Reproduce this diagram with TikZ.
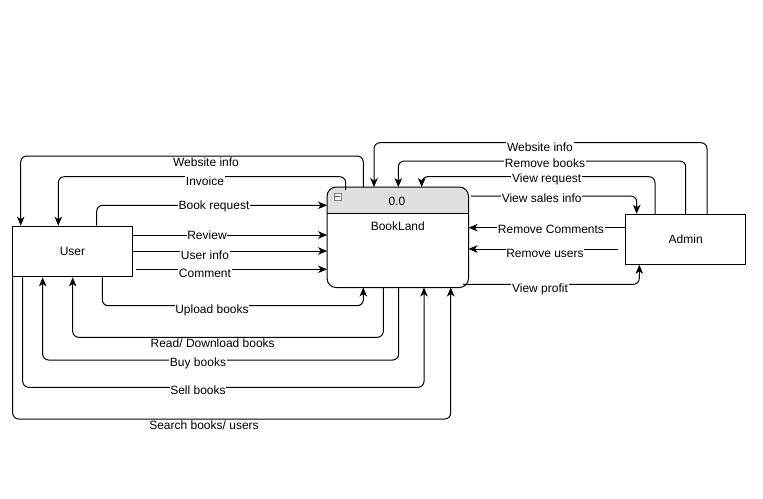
\documentclass[tikz,border=0pt]{standalone}
\usepackage{fontspec}
\setmainfont{Liberation Sans}
\usetikzlibrary{arrows.meta}
\definecolor{hdrgray}{HTML}{E0E0E0}
\tikzset{
  box/.style={draw, line width=1pt, minimum width=#1, inner sep=0pt, font=\fontsize{12}{14}\selectfont},
  lbl/.style={fill=white, inner sep=0.8pt, yshift=-1.2pt, font=\fontsize{12}{14}\selectfont},
  flow/.style={draw, line width=1pt, rounded corners=6pt, -{Stealth[length=9pt,width=7.5pt,inset=2.5pt]}},
}
\begin{document}
\begin{tikzpicture}[x=1pt,y=-1pt]
\useasboundingbox (0,0) rectangle (763,498);
% entities
\node[box=120.4pt, minimum height=50.7pt] (User) at (72.5,251.5) {User};
\node[box=120pt, minimum height=50pt] (Admin) at (685.7,239.3) {Admin};
% process
\node[draw=none, minimum width=141pt, minimum height=100pt, inner sep=0pt] (BL) at (397.8,237.3) {};
\fill[hdrgray] (BL.west |- 0,213.3) [rounded corners=9pt] -- (BL.north west) -- (BL.north east) [sharp corners] -- (BL.east |- 0,213.3) -- cycle;
\draw[line width=1pt, rounded corners=9pt] (BL.south west) rectangle (BL.north east);
\draw[line width=1pt] (BL.west |- 0,213.3) -- (BL.east |- 0,213.3);
\node[font=\fontsize{12}{14}\selectfont] (BLid) at (397,201.5) {0.0};
\node[font=\fontsize{12}{14}\selectfont] (BLname) at (397.8,226.5) {BookLand};
\node[draw=gray, fill=white, line width=0.8pt, minimum size=7pt, inner sep=0pt] (BLmin) at (337.5,196.5) {};
\draw[line width=0.8pt, gray!70!black] ([xshift=1.8pt]BLmin.west) -- ([xshift=-1.8pt]BLmin.east);
% left flows
\draw[flow] (363.3,0 |- BL.north) -- (363.3,156) -- (20.7,156) -- (20.7,0 |- User.north);
\draw[flow] (345.7,190) -- (345.7,176.7) -- (58.3,176.7) -- (58.3,0 |- User.north);
\draw[flow] (96.7,0 |- User.north) -- (96.7,205.3) -- (BL.west |- 0,205.3);
\draw[flow] (User.east |- 0,235) -- (BL.west |- 0,235);
\draw[flow] (User.east |- 0,251) -- (BL.west |- 0,251);
\draw[flow] (136,269.3) -- (BL.west |- 0,269.3);
\draw[flow] (102.3,0 |- User.south) -- (102.3,305.7) -- (363.3,305.7) -- (363.3,0 |- BL.south);
\draw[flow] (383.3,0 |- BL.south) -- (383.3,337.3) -- (72.7,337.3) -- (72.7,0 |- User.south);
\draw[flow] (398.7,0 |- BL.south) -- (398.7,360) -- (42.7,360) -- (42.7,0 |- User.south);
\draw[flow] (22.7,0 |- User.south) -- (22.7,387.3) -- (424,387.3) -- (424,0 |- BL.south);
\draw[flow] (12.7,0 |- User.south) -- (12.7,419) -- (450.7,419) -- (450.7,0 |- BL.south);
% right flows
\draw[flow] (707,0 |- Admin.north) -- (707,142.7) -- (374,142.7) -- (374,0 |- BL.north);
\draw[flow] (685.7,0 |- Admin.north) -- (685.7,161) -- (398.3,161) -- (398.3,0 |- BL.north);
\draw[flow] (655,0 |- Admin.north) -- (655,176.7) -- (421.7,176.7) -- (421.7,0 |- BL.north);
\draw[flow] (471,196) -- (636.7,196) -- (636.7,0 |- Admin.north);
\draw[flow] (Admin.west |- 0,227.7) -- (BL.east |- 0,227.7);
\draw[flow] (618.3,249) -- (BL.east |- 0,249);
\draw[flow] (463,284.3) -- (639.3,284.3) -- (639.3,0 |- Admin.south);
% labels
\node[lbl] (l1) at (206,161) {Website info};
\node[lbl] (l2) at (205,180) {Invoice};
\node[lbl] (l3) at (214,205) {Book request};
\node[lbl] (l4) at (207,234) {Review};
\node[lbl] (l5) at (205,254) {User info};
\node[lbl] (l6) at (205,271.7) {Comment};
\node[lbl] (l7) at (212,308.7) {Upload books};
\node[lbl] (l8) at (212.7,341.7) {Read/ Download books};
\node[lbl] (l9) at (198,362) {Buy books};
\node[lbl] (l10) at (198,388.7) {Sell books};
\node[lbl] (l11) at (204,424.3) {Search books/ users};
\node[lbl] (r1) at (540,146) {Website info};
\node[lbl] (r2) at (545,161.7) {Remove books};
\node[lbl] (r3) at (546.7,178.3) {View request};
\node[lbl] (r4) at (541.7,197.3) {View sales info};
\node[lbl] (r5) at (551,227.7) {Remove Comments};
\node[lbl] (r6) at (545,252.7) {Remove users};
\node[lbl] (r7) at (540,288.3) {View profit};
\end{tikzpicture}
\end{document}
